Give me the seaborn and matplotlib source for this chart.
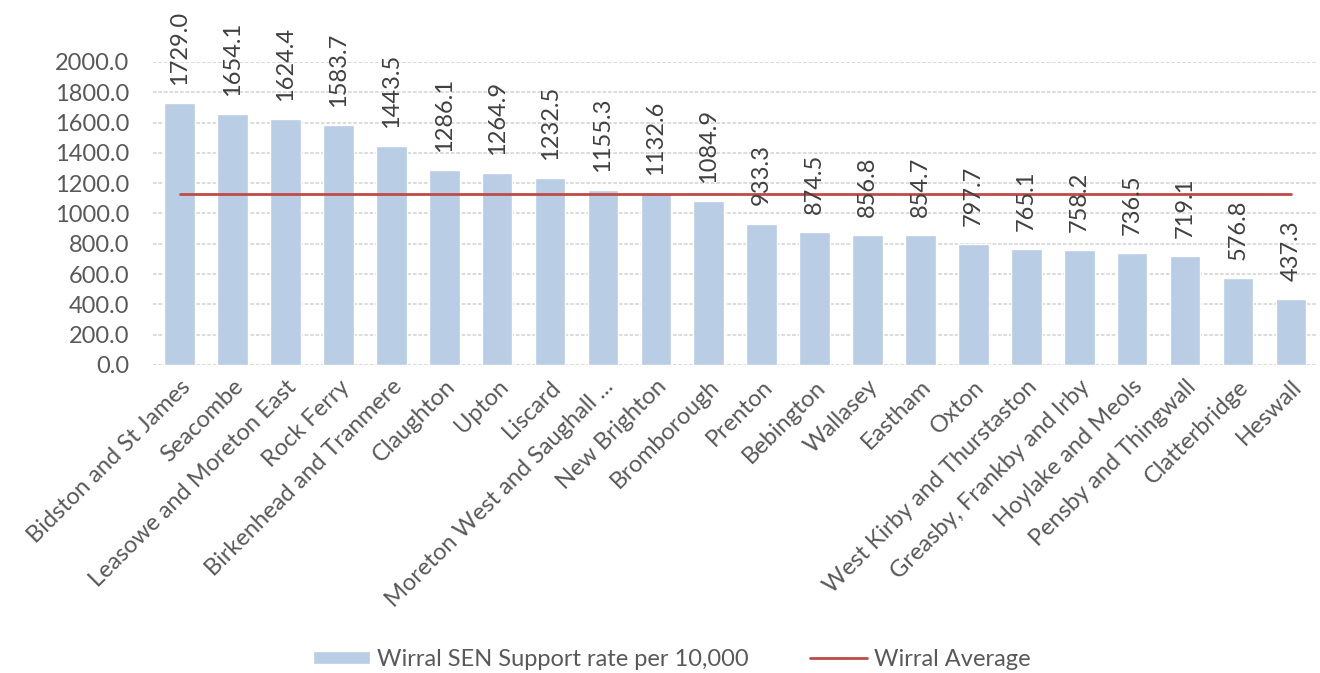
import pandas as pd
import matplotlib.pyplot as plt
import seaborn as sns

# Wirral wards, SEN support rate per 10,000
wards = ["Bidston and St James", "Seacombe", "Leasowe and Moreton East", "Rock Ferry",
         "Birkenhead and Tranmere", "Claughton", "Upton", "Liscard",
         "Moreton West and Saughall ...", "New Brighton", "Bromborough", "Prenton",
         "Bebington", "Wallasey", "Eastham", "Oxton", "West Kirby and Thurstaston",
         "Greasby, Frankby and Irby", "Hoylake and Meols", "Pensby and Thingwall",
         "Clatterbridge", "Heswall"]
rates = [1729.0, 1654.1, 1624.4, 1583.7, 1443.5, 1286.1, 1264.9, 1232.5, 1155.3,
         1132.6, 1084.9, 933.3, 874.5, 856.8, 854.7, 797.7, 765.1, 758.2, 736.5,
         719.1, 576.8, 437.3]
wirral_avg = 1130.0

df = pd.DataFrame({"ward": wards, "rate": rates})

sns.set_style("white")
plt.rcParams["font.family"] = ["Lato", "DejaVu Sans"]
txt = "#595959"
fs = 17

fig = plt.figure(figsize=(13.2, 6.73), dpi=100)
ax = fig.add_axes([0.116, 0.4577, 0.882, 0.4503])

sns.barplot(data=df, x="ward", y="rate", color="#B9CDE5", saturation=1,
            width=0.58, ax=ax)
bars = ax.patches[0]
avg_line, = ax.plot(range(len(wards)), [wirral_avg] * len(wards), color="#BE4B48", lw=2)

# value labels above each bar
for i, v in enumerate(rates):
    ax.annotate(f"{v:.1f}", (i, v), xytext=(0, 13), textcoords="offset points",
                rotation=90, ha="center", va="bottom", fontsize=fs,
                color="#404040", annotation_clip=False)

ax.set_ylim(0, 2000)
ax.set_xlim(-0.5, len(wards) - 0.5)
ax.set_yticks(range(0, 2001, 200))
ax.set_yticklabels([f"{t:.1f}" for t in range(0, 2001, 200)], fontsize=fs, color=txt)
ax.set_xticks(range(len(wards)))
ax.set_xticklabels(wards, rotation=45, ha="right", rotation_mode="anchor",
                   fontsize=fs, color=txt)
ax.tick_params(axis="y", length=0, pad=17)
ax.tick_params(axis="x", length=0, pad=8)
ax.set_xlabel("")
ax.set_ylabel("")
ax.yaxis.grid(True, color="#D9D9D9", lw=1.3, ls=(0, (2, 1)))
ax.set_axisbelow(True)
for s in ax.spines.values():
    s.set_visible(False)

fig.legend([bars, avg_line], ["Wirral SEN Support rate per 10,000", "Wirral Average"],
           loc="lower center", bbox_to_anchor=(0.509, -0.027), ncol=2, frameon=False,
           fontsize=fs, labelcolor=txt, handlelength=2.4, handleheight=0.5,
           columnspacing=2.6, handletextpad=0.3)

fig.savefig("out.png", dpi=100)
